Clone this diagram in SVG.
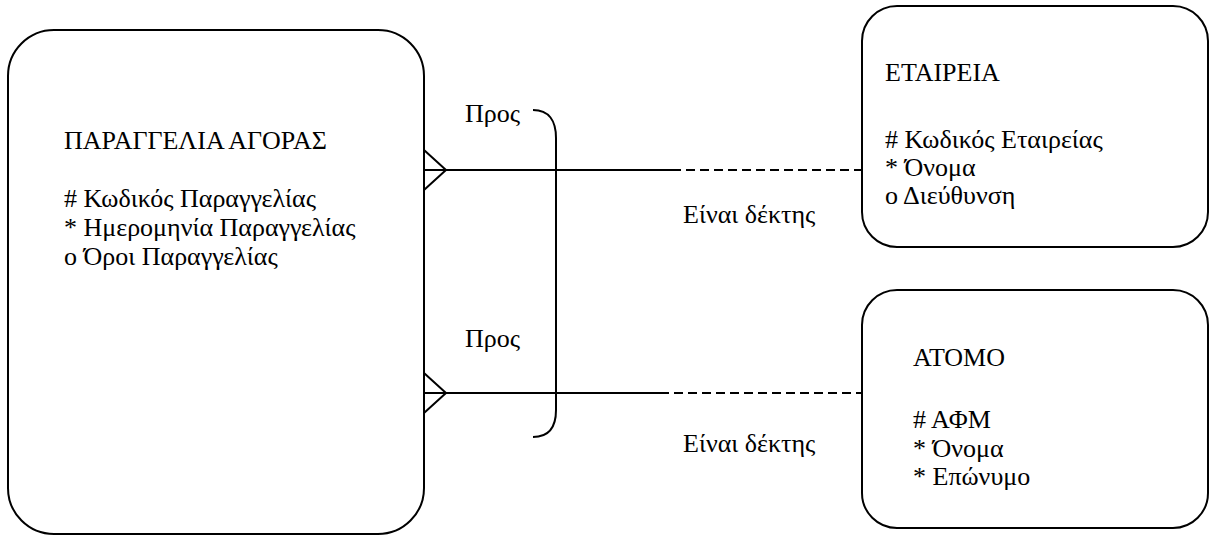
<svg xmlns="http://www.w3.org/2000/svg" width="1211" height="536" viewBox="0 0 1211 536">
  <style>
    .box { fill: #ffffff; stroke: #000000; stroke-width: 2; }
    .t { font-family: "Liberation Serif", "Times New Roman", serif; font-size: 26px; fill: #000000; }
    .solid { stroke: #000000; stroke-width: 2; fill: none; }
    .dash { stroke: #000000; stroke-width: 2; fill: none; stroke-dasharray: 9 5; }
  </style>
  <rect width="1211" height="536" fill="#ffffff"/>

  <!-- Purchase order entity -->
  <g id="purchase-order">
    <rect class="box" x="8" y="30" width="416" height="504" rx="46" ry="46"/>
    <text class="t" x="64" y="149">ΠΑΡΑΓΓΕΛΙΑ ΑΓΟΡΑΣ</text>
    <text class="t" x="64" y="207"># Κωδικός Παραγγελίας</text>
    <text class="t" x="64" y="236">* Ημερομηνία Παραγγελίας</text>
    <text class="t" x="64" y="265">ο Όροι Παραγγελίας</text>
  </g>

  <!-- Company entity -->
  <g id="company">
    <rect class="box" x="862" y="6" width="346" height="241" rx="35" ry="35"/>
    <text class="t" x="885" y="81">ΕΤΑΙΡΕΙΑ</text>
    <text class="t" x="885" y="148"># Κωδικός Εταιρείας</text>
    <text class="t" x="885" y="176">* Όνομα</text>
    <text class="t" x="885" y="204">ο Διεύθυνση</text>
  </g>

  <!-- Person entity -->
  <g id="person">
    <rect class="box" x="862" y="290" width="346" height="238" rx="35" ry="35"/>
    <text class="t" x="913" y="366">ΑΤΟΜΟ</text>
    <text class="t" x="913" y="428"># ΑΦΜ</text>
    <text class="t" x="913" y="457">* Όνομα</text>
    <text class="t" x="913" y="485">* Επώνυμο</text>
  </g>

  <!-- Relationships: crow's feet, solid/dashed halves, exclusive arc -->
  <g id="connectors">
    <path class="solid" d="M424,150 L446,170 L424,190"/>
    <line class="solid" x1="424" y1="170" x2="672" y2="170"/>
    <line class="dash" x1="672" y1="170" x2="862" y2="170"/>

    <path class="solid" d="M424,373 L446,393 L424,413"/>
    <line class="solid" x1="424" y1="393" x2="660" y2="393"/>
    <line class="dash" x1="660" y1="393" x2="862" y2="393"/>

    <path class="solid" d="M533,110 C549,110 556,121 556,138 L556,410 C556,428 548,437 533,437"/>

    <text class="t" x="465" y="122">Προς</text>
    <text class="t" x="465" y="347">Προς</text>
    <text class="t" x="683" y="223">Είναι δέκτης</text>
    <text class="t" x="683" y="452">Είναι δέκτης</text>
  </g>
</svg>
